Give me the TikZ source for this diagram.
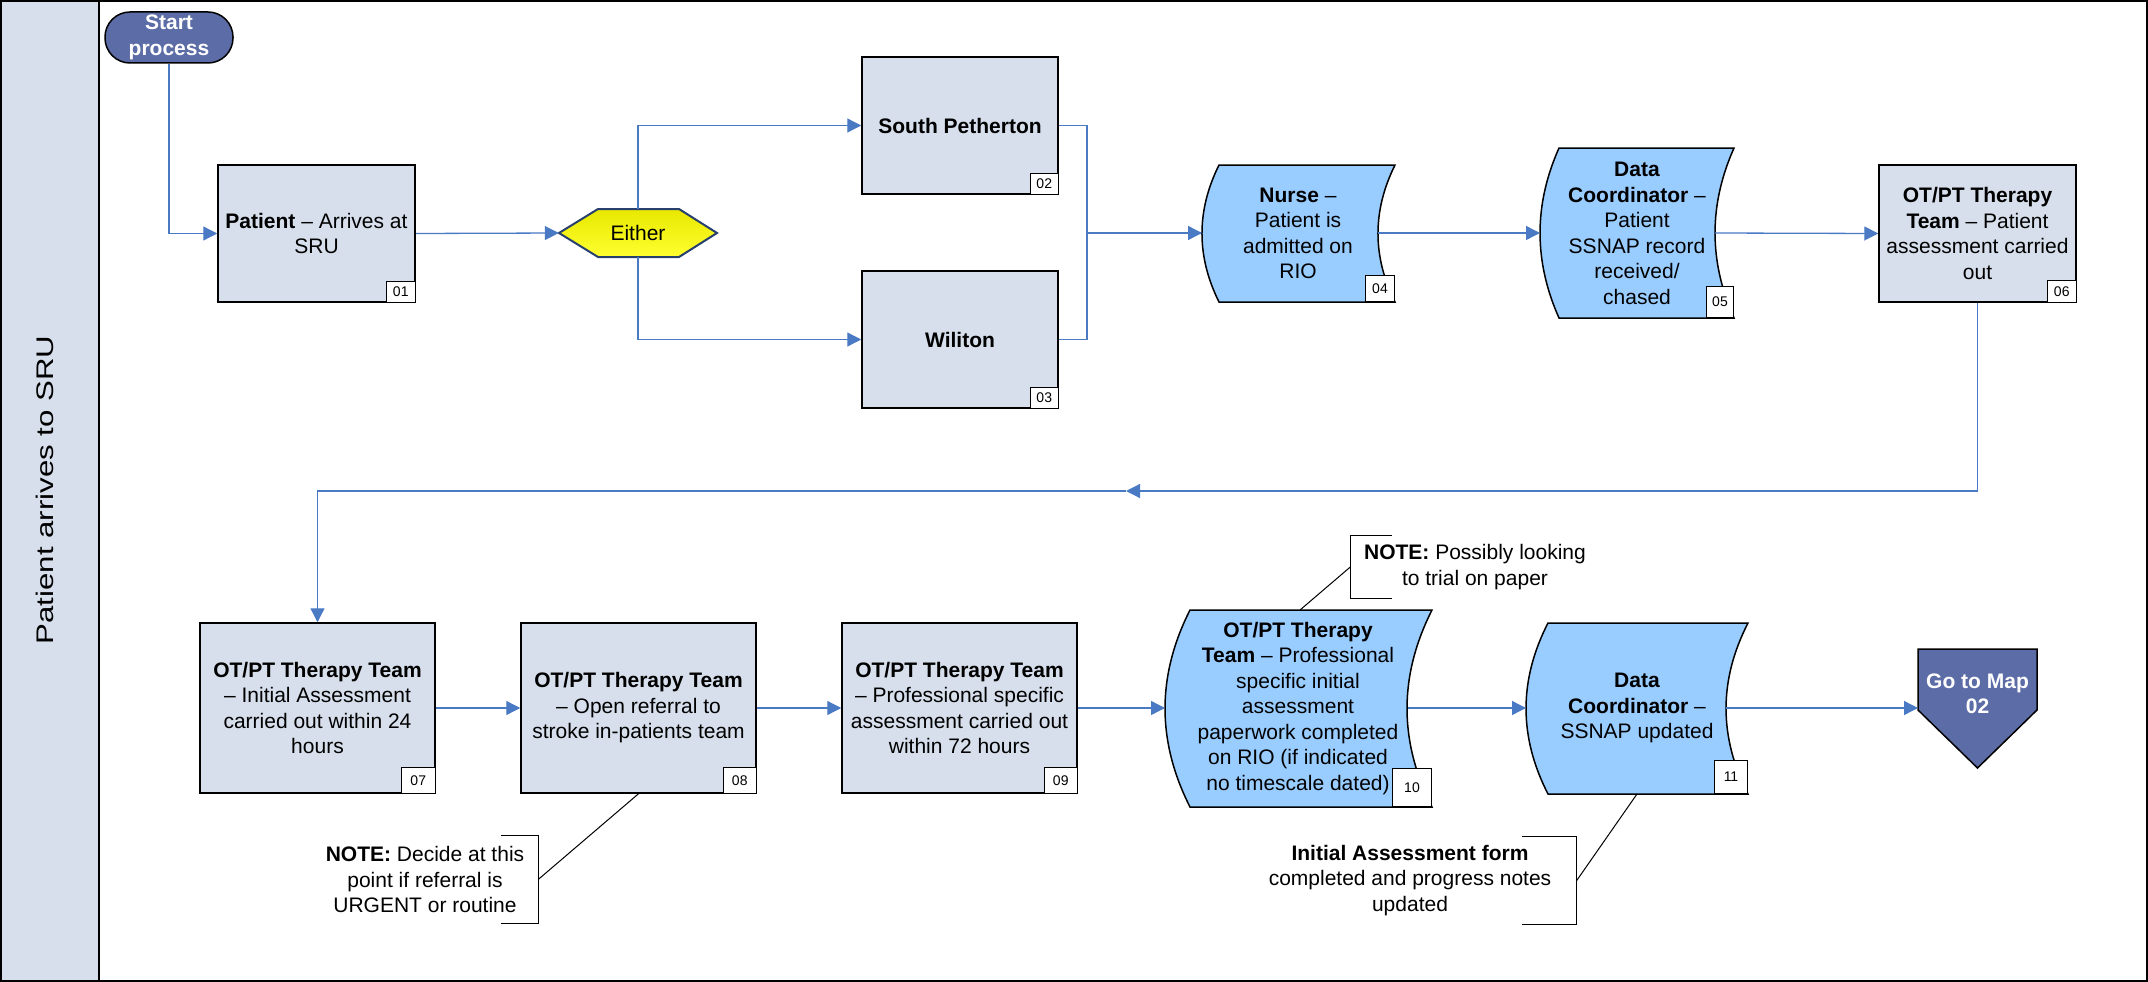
\documentclass[tikz,border=0pt]{standalone}
\usepackage{fontspec}
\setmainfont{Liberation Sans}
\newfontfamily\lanefont{Liberation Sans}[FakeStretch=1.3]
\usetikzlibrary{arrows.meta,positioning}

\definecolor{boxfill}{RGB}{214,223,235}
\definecolor{bentfill}{RGB}{153,204,255}
\definecolor{startfill}{RGB}{92,108,166}
\definecolor{lineblue}{RGB}{74,122,196}
\definecolor{hexline}{RGB}{40,64,110}
\definecolor{hextop}{RGB}{232,232,0}
\definecolor{hexbot}{RGB}{255,255,48}

\begin{document}
\begin{tikzpicture}[x=1pt,y=-1pt,font=\fontsize{21}{25.5}\selectfont]

    \tikzset{procbox/.style={draw,line width=1.5pt,fill=boxfill,minimum width=197pt,minimum height=137pt,align=center,inner sep=0pt}}
    \tikzset{bigbox/.style={procbox,minimum width=235pt,minimum height=170pt}}
    \tikzset{bentbox/.style={draw,line width=1.5pt,fill=bentfill}}
    \tikzset{txt/.style={align=center,inner sep=0pt}}
    \tikzset{tag/.style={draw,fill=white,line width=1pt,inner sep=0pt,anchor=south east,font=\fontsize{14}{14}\selectfont}}
    \tikzset{bracket/.style={draw,line width=1pt}}

    \useasboundingbox (0,0) rectangle (2148,982);

    % carril
    \fill[boxfill] (0,0) rectangle (99,982);
    \draw[line width=2pt] (1,1) rectangle (2147,981);
    \draw[line width=2pt] (99,0) -- (99,982);
    \node[rotate=90,font=\lanefont\fontsize{24}{24}\selectfont] (lane) at (44.5,490) {Patient arrives to SRU};

    % primera fila
    \node[draw,line width=1.5pt,fill=startfill,rounded corners=25pt,minimum width=128pt,minimum height=51pt,
          text=white,font=\bfseries\fontsize{21}{26}\selectfont,align=center,inner sep=0pt] (start) at (169,37.5) {Start\\process};

    \node[procbox] (p01) at (316.5,233.5) {\textbf{Patient} – Arrives at\\SRU};
    \node[tag,minimum width=29pt,minimum height=21pt] (t01) at (p01.south east) {01};

    \draw[line width=2pt,draw=hexline,top color=hextop,bottom color=hexbot]
        (559,233) -- (598,209) -- (679,209) -- (717,233) -- (679,257) -- (598,257) -- cycle;
    \node[minimum width=158pt,minimum height=48pt,inner sep=0pt] (either) at (638,233) {Either};

    \node[procbox,minimum width=196pt] (s02) at (960,125.5) {\textbf{South Petherton}};
    \node[tag,minimum width=28pt,minimum height=21pt] (t02) at (s02.south east) {02};
    \node[procbox,minimum width=196pt] (s03) at (960,339.5) {\textbf{Wiliton}};
    \node[tag,minimum width=28pt,minimum height=21pt] (t03) at (s03.south east) {03};
    \coordinate (merge) at (1087,233);

    \draw[bentbox] (1219,165) -- (1395,165) .. controls (1372.3,210.7) and (1372.3,256.3) .. (1395,302)
        -- (1219,302) .. controls (1196.3,256.3) and (1196.3,210.7) .. (1219,165) -- cycle;
    \node[txt] (n04) at (1298,233.5) {\textbf{Nurse} –\\Patient is\\admitted on\\RIO};
    \node[tag,minimum width=29pt,minimum height=26pt] (t04) at (1395,302) {04};
    \coordinate (n04in) at (1202,233);
    \coordinate (n04out) at (1378,233);

    \draw[bentbox] (1559,148) -- (1734,148) .. controls (1708.7,204.7) and (1708.7,261.3) .. (1734,318)
        -- (1559,318) .. controls (1533.7,261.3) and (1533.7,204.7) .. (1559,148) -- cycle;
    \node[txt] (n05) at (1637,233.5) {\textbf{Data}\\\textbf{Coordinator} –\\Patient\\SSNAP record\\received/\\chased};
    \node[tag,minimum width=27pt,minimum height=31pt] (t05) at (1734,318) {05};
    \coordinate (n05in) at (1540,233);
    \coordinate (n05out) at (1715,233);

    \node[procbox] (b06) at (1977.5,233.5) {\textbf{OT/PT Therapy}\\\textbf{Team} – Patient\\assessment carried\\out};
    \node[tag,minimum width=29pt,minimum height=22pt] (t06) at (b06.south east) {06};
    \coordinate (ret) at (1126,491);

    % segunda fila
    \node[bigbox] (b07) at (317.5,708) {\textbf{OT/PT Therapy Team}\\– Initial Assessment\\carried out within 24\\hours};
    \node[tag,minimum width=34pt,minimum height=26pt] (t07) at (b07.south east) {07};
    \node[bigbox] (b08) at (638.5,708) {\textbf{OT/PT Therapy Team}\\– Open referral to\\stroke in-patients team};
    \node[tag,minimum width=33pt,minimum height=26pt] (t08) at (b08.south east) {08};
    \node[bigbox] (b09) at (959.5,708) {\textbf{OT/PT Therapy Team}\\– Professional specific\\assessment carried out\\within 72 hours};
    \node[tag,minimum width=33pt,minimum height=26pt] (t09) at (b09.south east) {09};

    \draw[bentbox] (1190,610) -- (1432,610) .. controls (1398.7,675.7) and (1398.7,741.3) .. (1432,807)
        -- (1190,807) .. controls (1156.7,741.3) and (1156.7,675.7) .. (1190,610) -- cycle;
    \node[txt] (n10) at (1298,708.5) {\textbf{OT/PT Therapy}\\\textbf{Team} – Professional\\specific initial\\assessment\\paperwork completed\\on RIO (if indicated\\no timescale dated)};
    \node[tag,minimum width=39pt,minimum height=38pt] (t10) at (1432,807) {10};
    \coordinate (n10in) at (1165,708);
    \coordinate (n10out) at (1408,708);
    \coordinate (n10top) at (1300,610);

    \draw[bentbox] (1548,623) -- (1748,623) .. controls (1718.7,680) and (1718.7,737) .. (1748,794)
        -- (1548,794) .. controls (1518.7,737) and (1518.7,680) .. (1548,623) -- cycle;
    \node[txt] (n11) at (1637,708) {\textbf{Data}\\\textbf{Coordinator} –\\SSNAP updated};
    \node[tag,minimum width=33pt,minimum height=33pt] (t11) at (1748,794) {11};
    \coordinate (n11in) at (1526,708);
    \coordinate (n11out) at (1726,708);
    \coordinate (n11bot) at (1637,794);

    \draw[line width=1.5pt,fill=startfill] (1918,649) -- (2037,649) -- (2037,710) -- (1977.5,768) -- (1918,710) -- cycle;
    \node[txt,text=white,font=\bfseries\fontsize{21}{25}\selectfont] (goto) at (1977.5,693.5) {Go to Map\\02};
    \coordinate (gotoin) at (1918,708);

    % notas
    \node[txt,minimum width=226pt,minimum height=87pt] (note08) at (425,879.5) {\textbf{NOTE:} Decide at this\\point if referral is\\URGENT or routine};
    \draw[bracket] ([xshift=-37pt]note08.north east) -- (note08.north east) -- (note08.south east) -- ([xshift=-37pt]note08.south east);
    \node[txt,minimum width=249pt,minimum height=62pt] (note10) at (1475,567) {\textbf{NOTE:} Possibly looking\\to trial on paper};
    \draw[bracket] ([xshift=41.5pt]note10.north west) -- (note10.north west) -- (note10.south west) -- ([xshift=41.5pt]note10.south west);
    \node[txt,minimum width=333pt,minimum height=87pt] (note11) at (1410,880.5) {\textbf{Initial Assessment form}\\completed and progress notes\\updated};
    \draw[bracket] ([xshift=-54.5pt]note11.north east) -- (note11.north east) -- (note11.south east) -- ([xshift=-54.5pt]note11.south east);

    \draw[line width=1pt] (note08.east) -- (b08.south);
    \draw[line width=1pt] (note10.west) -- (n10top);
    \draw[line width=1pt] (note11.east) -- (n11bot);

    % flujo
    \draw[draw=lineblue,line width=1.3pt] (s02.east) -| (merge) |- (s03.east);
    \begin{scope}[every path/.style={draw=lineblue,line width=1.3pt,-{Triangle[length=14pt,width=14pt]}}]
        \draw (start.south) |- (p01.west);
        \draw (p01.east) -- (either.west);
        \draw (either.north) |- (s02.west);
        \draw (either.south) |- (s03.west);
        \draw (merge) -- (n04in);
        \draw (n04out) -- (n05in);
        \draw (n05out) -- (b06.west);
        \draw (b06.south) |- (ret);
        \draw (ret) -| (b07.north);
        \draw (b07.east) -- (b08.west);
        \draw (b08.east) -- (b09.west);
        \draw (b09.east) -- (n10in);
        \draw (n10out) -- (n11in);
        \draw (n11out) -- (gotoin);
    \end{scope}

\end{tikzpicture}
\end{document}
